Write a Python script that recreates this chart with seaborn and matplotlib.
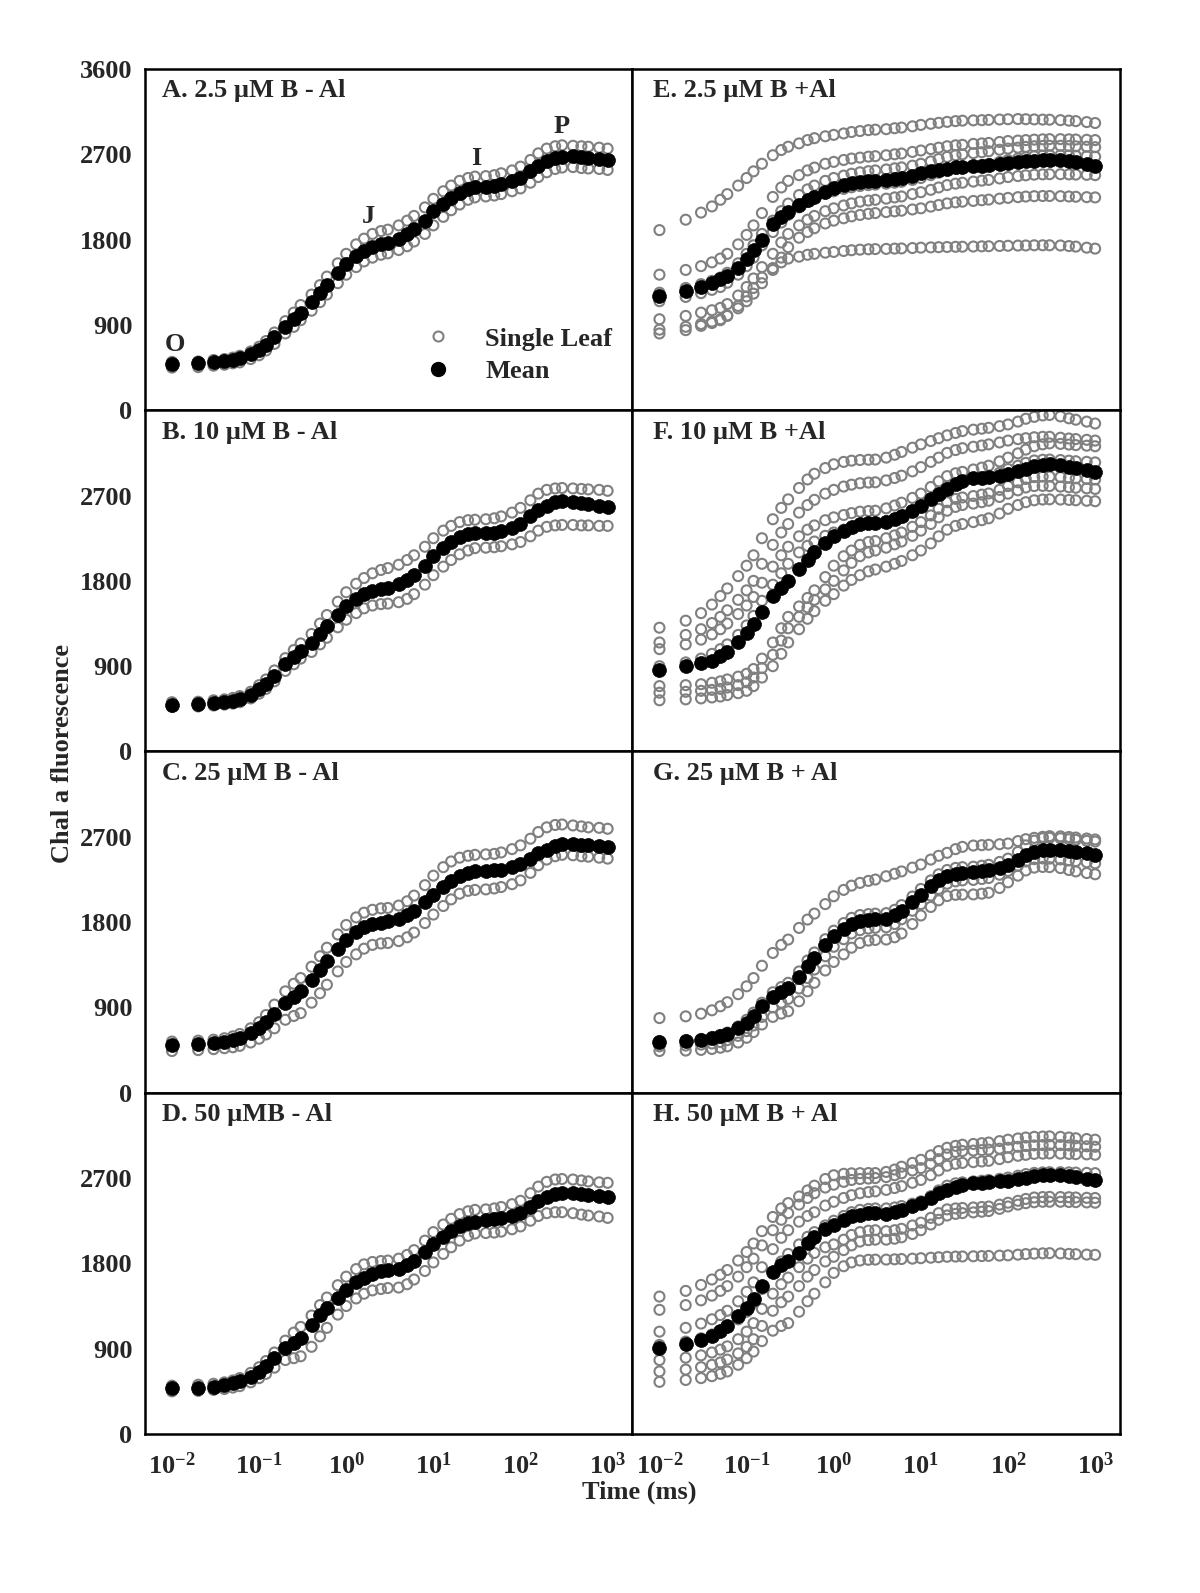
import numpy as np
import pandas as pd
import matplotlib
matplotlib.use('Agg')
import matplotlib.pyplot as plt
from matplotlib.lines import Line2D
from matplotlib.ticker import NullLocator
import seaborn as sns

# OJIP transients, Chl a fluorescence vs time (ms)

T = [0.01, 0.02, 0.03, 0.04, 0.05, 0.06, 0.08, 0.1, 0.12, 0.15, 0.2, 0.25, 0.3,
     0.4, 0.5, 0.6, 0.8, 1.0, 1.3, 1.6, 2.0, 2.5, 3.0,
     4, 5, 6, 8, 10, 13, 16, 20, 25, 30,
     40, 50, 60, 80, 100, 130, 160, 200, 250, 300,
     400, 500, 600, 800, 1000]

# --- A. 2.5 uM B - Al ---
A_mean = [490, 495, 510, 520, 535, 550, 590, 635, 690, 770, 880, 960, 1030,
          1140, 1240, 1320, 1450, 1545, 1630, 1685, 1725, 1750, 1765,
          1810, 1860, 1910, 2000, 2100, 2180, 2240, 2290, 2330, 2355,
          2360, 2370, 2385, 2415, 2450, 2520, 2580, 2625, 2660, 2675,
          2680, 2670, 2665, 2655, 2640]
A_hi = [510, 515, 530, 540, 555, 575, 620, 670, 730, 820, 940, 1030, 1110,
        1220, 1320, 1410, 1550, 1650, 1750, 1810, 1860, 1890, 1905,
        1950, 2000, 2050, 2140, 2230, 2310, 2370, 2420, 2450, 2465,
        2470, 2480, 2500, 2530, 2570, 2640, 2710, 2760, 2785, 2795,
        2790, 2785, 2780, 2770, 2760]
A_lo = [450, 455, 470, 480, 495, 505, 540, 580, 630, 700, 810, 880, 950,
        1050, 1140, 1220, 1340, 1430, 1510, 1570, 1610, 1640, 1655,
        1690, 1730, 1780, 1860, 1950, 2040, 2110, 2170, 2220, 2245,
        2255, 2265, 2280, 2310, 2340, 2400, 2460, 2510, 2545, 2560,
        2565, 2555, 2550, 2545, 2535]

# --- B. 10 uM B - Al ---
B_mean = [495, 500, 510, 520, 535, 550, 595, 660, 715, 800, 920, 995, 1060,
          1140, 1240, 1320, 1440, 1530, 1610, 1660, 1695, 1715, 1730,
          1765, 1810, 1860, 1960, 2060, 2150, 2210, 2260, 2295, 2310,
          2300, 2310, 2325, 2360, 2400, 2480, 2550, 2595, 2630, 2640,
          2635, 2620, 2610, 2595, 2580]
B_hi = [520, 525, 540, 550, 565, 585, 630, 700, 760, 855, 985, 1070, 1140,
        1240, 1350, 1440, 1580, 1680, 1770, 1830, 1880, 1915, 1935,
        1970, 2020, 2070, 2160, 2250, 2330, 2380, 2420, 2440, 2445,
        2450, 2460, 2480, 2520, 2570, 2650, 2720, 2760, 2775, 2780,
        2775, 2770, 2765, 2760, 2750]
B_lo = [470, 475, 485, 495, 505, 520, 560, 610, 660, 740, 850, 920, 980,
        1050, 1130, 1200, 1310, 1390, 1460, 1510, 1540, 1555, 1560,
        1575, 1610, 1660, 1760, 1860, 1950, 2020, 2080, 2120, 2145,
        2150, 2155, 2165, 2185, 2210, 2270, 2330, 2370, 2385, 2390,
        2390, 2385, 2385, 2380, 2380]

# --- C. 25 uM B - Al ---
C_mean = [505, 515, 525, 540, 560, 580, 630, 685, 745, 835, 945, 1015, 1070,
          1190, 1300, 1390, 1520, 1615, 1695, 1745, 1775, 1795, 1810,
          1830, 1870, 1920, 2010, 2090, 2170, 2230, 2285, 2320, 2335,
          2340, 2345, 2355, 2385, 2410, 2470, 2525, 2565, 2600, 2620,
          2620, 2615, 2610, 2600, 2595]
C_hi = [540, 550, 560, 575, 595, 620, 680, 745, 820, 930, 1070, 1150, 1210,
        1330, 1440, 1530, 1670, 1770, 1850, 1900, 1930, 1945, 1950,
        1975, 2020, 2080, 2190, 2290, 2380, 2440, 2480, 2500, 2510,
        2515, 2520, 2535, 2570, 2610, 2680, 2750, 2800, 2825, 2830,
        2820, 2810, 2800, 2795, 2785]
C_lo = [440, 450, 460, 470, 480, 495, 530, 570, 615, 680, 770, 810, 840,
        950, 1050, 1140, 1280, 1380, 1460, 1520, 1560, 1575, 1580,
        1600, 1640, 1690, 1790, 1880, 1970, 2040, 2100, 2130, 2140,
        2145, 2155, 2170, 2200, 2240, 2320, 2400, 2460, 2495, 2510,
        2505, 2495, 2490, 2480, 2470]

# --- D. 50 uM B - Al ---
D_mean = [482, 490, 500, 515, 535, 555, 605, 658, 715, 800, 905, 965, 1010,
          1150, 1255, 1330, 1440, 1520, 1600, 1650, 1685, 1715, 1730,
          1745, 1780, 1830, 1920, 2000, 2080, 2140, 2190, 2225, 2240,
          2260, 2270, 2280, 2305, 2330, 2400, 2460, 2505, 2530, 2540,
          2540, 2535, 2525, 2515, 2505]
D_hi = [510, 520, 530, 545, 565, 590, 645, 705, 770, 860, 985, 1070, 1130,
        1250, 1360, 1440, 1570, 1660, 1740, 1790, 1815, 1825, 1830,
        1850, 1890, 1940, 2040, 2130, 2210, 2270, 2320, 2350, 2365,
        2370, 2380, 2395, 2425, 2460, 2540, 2610, 2660, 2685, 2690,
        2685, 2675, 2665, 2655, 2650]
D_lo = [450, 455, 465, 475, 490, 505, 545, 590, 635, 700, 780, 800, 820,
        920, 1030, 1120, 1260, 1350, 1430, 1480, 1515, 1530, 1540,
        1545, 1580, 1630, 1720, 1810, 1900, 1970, 2040, 2090, 2115,
        2120, 2125, 2135, 2160, 2190, 2250, 2300, 2330, 2340, 2340,
        2330, 2315, 2305, 2295, 2280]

# --- E. 2.5 uM B + Al ---
E_mean = [1205, 1260, 1300, 1340, 1385, 1420, 1500, 1600, 1690, 1800, 1960, 2040, 2095,
          2165, 2215, 2250, 2300, 2340, 2375, 2395, 2410, 2418, 2422,
          2430, 2440, 2450, 2475, 2500, 2520, 2535, 2550, 2562, 2570,
          2575, 2580, 2585, 2595, 2605, 2615, 2625, 2632, 2638, 2640,
          2635, 2625, 2615, 2598, 2580]
E_1 = [1900, 2010, 2085, 2150, 2220, 2280, 2370, 2450, 2520, 2600, 2690, 2745, 2780,
       2815, 2850, 2870, 2890, 2905, 2920, 2935, 2945, 2955, 2960,
       2965, 2975, 2982, 2995, 3010, 3022, 3032, 3042, 3050, 3055,
       3058, 3060, 3063, 3067, 3070, 3072, 3070, 3068, 3066, 3065,
       3060, 3055, 3050, 3040, 3030]
E_2 = [1430, 1480, 1520, 1560, 1600, 1650, 1750, 1850, 1950, 2080, 2250, 2350, 2420,
       2480, 2530, 2560, 2600, 2620, 2640, 2655, 2665, 2675, 2680,
       2690, 2700, 2708, 2725, 2740, 2755, 2770, 2785, 2795, 2800,
       2810, 2815, 2820, 2830, 2840, 2845, 2850, 2855, 2858, 2860,
       2860, 2858, 2856, 2853, 2850]
E_3 = [1240, 1290, 1330, 1365, 1400, 1450, 1550, 1650, 1740, 1860, 2000, 2100, 2180,
       2270, 2330, 2370, 2420, 2450, 2475, 2495, 2510, 2522, 2530,
       2540, 2552, 2562, 2580, 2600, 2625, 2650, 2672, 2690, 2700,
       2712, 2722, 2732, 2748, 2760, 2770, 2778, 2785, 2788, 2790,
       2790, 2787, 2784, 2780, 2775]
E_4 = [1150, 1195, 1235, 1270, 1300, 1345, 1430, 1520, 1610, 1740, 1880, 1980, 2060,
       2140, 2200, 2240, 2285, 2310, 2335, 2352, 2365, 2375, 2380,
       2390, 2400, 2410, 2430, 2450, 2480, 2505, 2530, 2548, 2560,
       2575, 2588, 2598, 2620, 2640, 2655, 2668, 2680, 2686, 2690,
       2690, 2688, 2685, 2680, 2675]
E_5 = [960, 995, 1030, 1055, 1080, 1120, 1210, 1300, 1390, 1510, 1650, 1770, 1860,
       1950, 2010, 2050, 2100, 2130, 2160, 2182, 2200, 2212, 2220,
       2232, 2245, 2255, 2280, 2300, 2325, 2350, 2375, 2390, 2400,
       2412, 2422, 2430, 2445, 2460, 2470, 2478, 2485, 2488, 2490,
       2490, 2488, 2486, 2483, 2480]
E_6 = [850, 880, 910, 935, 960, 1000, 1075, 1150, 1230, 1340, 1480, 1610, 1720,
       1820, 1880, 1920, 1970, 2000, 2025, 2045, 2060, 2072, 2080,
       2090, 2098, 2105, 2118, 2130, 2148, 2165, 2182, 2193, 2200,
       2208, 2215, 2222, 2232, 2240, 2248, 2254, 2258, 2260, 2260,
       2258, 2255, 2252, 2248, 2245]
E_7 = [810, 845, 890, 920, 950, 995, 1100, 1200, 1290, 1400, 1500, 1560, 1600,
       1620, 1640, 1650, 1662, 1670, 1680, 1688, 1694, 1698, 1700,
       1702, 1705, 1707, 1711, 1715, 1718, 1720, 1722, 1724, 1725,
       1727, 1729, 1730, 1733, 1735, 1737, 1738, 1740, 1740, 1740,
       1738, 1732, 1726, 1715, 1705]

# --- F. 10 uM B + Al ---
F_mean = [860, 900, 930, 955, 1005, 1050, 1150, 1250, 1340, 1470, 1640, 1730, 1800,
          1920, 2025, 2100, 2200, 2270, 2330, 2370, 2395, 2408, 2415,
          2425, 2450, 2480, 2540, 2590, 2660, 2715, 2765, 2820, 2855,
          2880, 2890, 2898, 2910, 2925, 2955, 2985, 3010, 3025, 3030,
          3020, 3005, 2990, 2970, 2950]
F_1 = [1306, 1380, 1460, 1550, 1640, 1720, 1850, 1960, 2070, 2250, 2450, 2570, 2660,
       2780, 2870, 2930, 2990, 3030, 3055, 3068, 3075, 3078, 3080,
       3100, 3130, 3160, 3205, 3240, 3275, 3305, 3335, 3360, 3380,
       3395, 3405, 3415, 3432, 3450, 3480, 3510, 3530, 3545, 3550,
       3535, 3515, 3500, 3480, 3460]
F_2 = [1150, 1230, 1290, 1355, 1420, 1490, 1600, 1700, 1800, 1980, 2180, 2310, 2400,
       2520, 2600, 2655, 2720, 2760, 2795, 2815, 2830, 2837, 2840,
       2860, 2885, 2910, 2955, 3000, 3055, 3100, 3150, 3180, 3200,
       3215, 3228, 3240, 3260, 3280, 3295, 3305, 3315, 3320, 3320,
       3310, 3302, 3296, 3288, 3280]
F_3 = [1080, 1130, 1180, 1235, 1290, 1350, 1450, 1540, 1630, 1780, 1950, 2070, 2160,
       2270, 2340, 2385, 2440, 2470, 2495, 2515, 2530, 2537, 2540,
       2565, 2595, 2625, 2675, 2720, 2790, 2850, 2905, 2935, 2950,
       2975, 2995, 3015, 3060, 3100, 3145, 3185, 3220, 3240, 3250,
       3245, 3238, 3232, 3226, 3220]
F_4 = [900, 940, 980, 1030, 1080, 1130, 1230, 1330, 1430, 1590, 1760, 1880, 1980,
       2100, 2170, 2215, 2275, 2310, 2340, 2365, 2385, 2395, 2400,
       2430, 2460, 2490, 2545, 2600, 2670, 2730, 2790, 2830, 2850,
       2870, 2885, 2900, 2940, 2980, 3015, 3045, 3070, 3078, 3080,
       3075, 3068, 3062, 3056, 3050]
F_5 = [690, 700, 710, 725, 740, 760, 790, 820, 870, 980, 1150, 1300, 1420,
       1530, 1620, 1700, 1840, 1960, 2060, 2120, 2180, 2210, 2220,
       2250, 2280, 2310, 2370, 2420, 2490, 2560, 2630, 2665, 2680,
       2695, 2710, 2722, 2760, 2800, 2840, 2875, 2895, 2900, 2900,
       2895, 2888, 2882, 2876, 2870]
F_6 = [620, 630, 640, 650, 660, 675, 700, 730, 780, 880, 1020, 1170, 1300,
       1420, 1520, 1600, 1710, 1800, 1910, 1990, 2060, 2100, 2120,
       2150, 2185, 2215, 2275, 2330, 2400, 2470, 2540, 2580, 2600,
       2615, 2630, 2645, 2685, 2720, 2755, 2785, 2800, 2802, 2800,
       2795, 2788, 2782, 2776, 2770]
F_7 = [540, 550, 560, 570, 580, 595, 615, 640, 690, 780, 900, 1030, 1150,
       1290, 1400, 1480, 1590, 1660, 1750, 1810, 1860, 1900, 1920,
       1950, 1980, 2010, 2070, 2120, 2195, 2270, 2340, 2380, 2400,
       2420, 2440, 2460, 2510, 2560, 2600, 2630, 2650, 2658, 2660,
       2658, 2654, 2650, 2645, 2640]

# --- G. 25 uM B + Al ---
G_mean = [532, 542, 555, 575, 595, 620, 680, 740, 810, 910, 1015, 1065, 1105,
          1220, 1335, 1420, 1560, 1650, 1730, 1780, 1810, 1822, 1828,
          1835, 1870, 1920, 2010, 2090, 2180, 2240, 2285, 2310, 2320,
          2325, 2335, 2345, 2375, 2405, 2460, 2505, 2538, 2560, 2566,
          2560, 2550, 2540, 2525, 2513]
G_1 = [788, 806, 834, 870, 912, 955, 1040, 1123, 1210, 1340, 1475, 1560, 1616,
       1739, 1827, 1890, 1990, 2073, 2140, 2185, 2214, 2235, 2249,
       2284, 2310, 2335, 2375, 2408, 2460, 2500, 2531, 2570, 2594,
       2608, 2612, 2616, 2622, 2629, 2655, 2675, 2689, 2700, 2707,
       2705, 2698, 2692, 2682, 2672]
G_2 = [545, 555, 568, 588, 610, 635, 700, 770, 845, 950, 1060, 1115, 1160,
       1280, 1395, 1480, 1620, 1710, 1790, 1845, 1875, 1885, 1890,
       1895, 1930, 1980, 2070, 2150, 2240, 2305, 2350, 2372, 2380,
       2385, 2395, 2405, 2435, 2470, 2540, 2610, 2660, 2685, 2690,
       2685, 2675, 2668, 2658, 2650]
G_3 = [490, 498, 508, 520, 535, 555, 600, 650, 710, 800, 900, 950, 990,
       1100, 1210, 1300, 1440, 1540, 1620, 1680, 1715, 1732, 1740,
       1745, 1780, 1830, 1920, 1990, 2080, 2150, 2205, 2230, 2240,
       2245, 2255, 2265, 2300, 2340, 2395, 2440, 2465, 2472, 2470,
       2462, 2452, 2444, 2432, 2420]
G_4 = [440, 445, 452, 462, 475, 490, 530, 580, 640, 720, 800, 835, 860,
       965, 1070, 1160, 1290, 1380, 1460, 1530, 1580, 1605, 1612,
       1616, 1640, 1680, 1780, 1870, 1960, 2030, 2075, 2088, 2090,
       2092, 2100, 2110, 2160, 2220, 2290, 2345, 2375, 2382, 2380,
       2370, 2350, 2335, 2318, 2305]

# --- H. 50 uM B + Al ---
H_mean = [912, 947, 993, 1035, 1088, 1140, 1240, 1327, 1420, 1560, 1714, 1780, 1820,
          1908, 2010, 2075, 2160, 2205, 2260, 2295, 2315, 2327, 2330,
          2325, 2340, 2365, 2405, 2436, 2490, 2540, 2577, 2610, 2629,
          2647, 2653, 2658, 2665, 2672, 2690, 2705, 2717, 2728, 2735,
          2730, 2720, 2710, 2695, 2682]
H_1 = [1450, 1510, 1573, 1630, 1680, 1730, 1830, 1920, 2010, 2140, 2290, 2380, 2436,
       2506, 2570, 2620, 2690, 2730, 2745, 2750, 2752, 2753, 2753,
       2765, 2790, 2820, 2860, 2893, 2940, 2985, 3020, 3040, 3052,
       3060, 3068, 3075, 3090, 3105, 3118, 3128, 3135, 3138, 3140,
       3135, 3128, 3120, 3112, 3105]
H_2 = [1310, 1360, 1410, 1460, 1510, 1560, 1660, 1760, 1850, 1990, 2150, 2260, 2330,
       2420, 2490, 2540, 2600, 2630, 2660, 2680, 2690, 2695, 2700,
       2710, 2730, 2750, 2780, 2805, 2850, 2900, 2950, 2975, 2985,
       2990, 2995, 3000, 3010, 3020, 3030, 3038, 3045, 3048, 3050,
       3048, 3044, 3040, 3035, 3030]
H_3 = [1080, 1120, 1165, 1210, 1255, 1300, 1400, 1500, 1600, 1760, 1950, 2070, 2150,
       2240, 2300, 2340, 2410, 2450, 2490, 2520, 2540, 2552, 2560,
       2575, 2595, 2615, 2650, 2680, 2730, 2780, 2830, 2850, 2860,
       2868, 2875, 2882, 2900, 2920, 2935, 2945, 2955, 2958, 2960,
       2958, 2955, 2952, 2950, 2946]
H_4 = [940, 975, 1010, 1050, 1090, 1130, 1210, 1290, 1380, 1530, 1700, 1820, 1900,
       2000, 2080, 2130, 2200, 2250, 2300, 2340, 2365, 2375, 2380,
       2380, 2390, 2405, 2430, 2455, 2510, 2570, 2620, 2645, 2655,
       2665, 2672, 2680, 2692, 2705, 2725, 2742, 2755, 2760, 2762,
       2762, 2760, 2758, 2755, 2752]
H_5 = [780, 805, 830, 860, 890, 925, 1000, 1080, 1170, 1320, 1480, 1580, 1650,
       1760, 1850, 1910, 1970, 2000, 2050, 2100, 2130, 2145, 2150,
       2140, 2150, 2165, 2200, 2230, 2280, 2330, 2370, 2380, 2385,
       2390, 2395, 2400, 2420, 2440, 2460, 2480, 2495, 2500, 2502,
       2500, 2498, 2495, 2492, 2490]
H_6 = [660, 680, 705, 730, 755, 785, 850, 920, 1000, 1140, 1300, 1390, 1450,
       1560, 1660, 1730, 1820, 1870, 1940, 1990, 2030, 2045, 2050,
       2050, 2060, 2075, 2110, 2150, 2210, 2260, 2305, 2322, 2330,
       2338, 2345, 2352, 2375, 2400, 2420, 2435, 2445, 2450, 2450,
       2450, 2448, 2446, 2443, 2440]
H_7 = [550, 570, 590, 610, 635, 660, 730, 800, 870, 980, 1090, 1140, 1170,
       1290, 1400, 1480, 1600, 1700, 1770, 1810, 1830, 1838, 1840,
       1840, 1843, 1846, 1850, 1855, 1860, 1865, 1870, 1872, 1873,
       1875, 1877, 1879, 1882, 1885, 1892, 1898, 1903, 1906, 1908,
       1905, 1900, 1897, 1893, 1890]

TITLES = ['A. 2.5 µM B - Al', 'B. 10 µM B - Al', 'C. 25 µM B - Al', 'D. 50 µMB - Al',
          'E. 2.5 µM B +Al', 'F. 10 µM B +Al', 'G. 25 µM B + Al', 'H. 50 µM B + Al']
Y_TICKS = [0, 900, 1800, 2700, 3600]
X_TICKS = [1e-2, 1e-1, 1e0, 1e1, 1e2, 1e3]
X_TICKLABELS = [r'$\mathbf{10^{-2}}$', r'$\mathbf{10^{-1}}$', r'$\mathbf{10^{0}}$',
                r'$\mathbf{10^{1}}$', r'$\mathbf{10^{2}}$', r'$\mathbf{10^{3}}$']
# OJIP step labels in panel A: (text, time, value)
STEPS = [('O', 0.0107, 690), ('J', 1.79, 2040), ('I', 31, 2660), ('P', 300, 2990)]

GRAY = '#808080'

sns.set_style('white')
plt.rcParams['font.family'] = ['Liberation Serif', 'DejaVu Serif']
plt.rcParams['font.weight'] = 'bold'
plt.rcParams['axes.labelweight'] = 'bold'
plt.rcParams['mathtext.fontset'] = 'custom'
plt.rcParams['mathtext.rm'] = 'Liberation Serif:bold'
plt.rcParams['mathtext.bf'] = 'Liberation Serif:bold'
plt.rcParams['mathtext.it'] = 'Liberation Serif:bold:italic'

panels = [
    (0, 0, A_mean, [A_hi, A_lo]),
    (1, 0, B_mean, [B_hi, B_lo]),
    (2, 0, C_mean, [C_hi, C_lo]),
    (3, 0, D_mean, [D_hi, D_lo]),
    (0, 1, E_mean, [E_1, E_2, E_3, E_4, E_5, E_6, E_7]),
    (1, 1, F_mean, [F_1, F_2, F_3, F_4, F_5, F_6, F_7]),
    (2, 1, G_mean, [G_1, G_2, G_3, G_4]),
    (3, 1, H_mean, [H_1, H_2, H_3, H_4, H_5, H_6, H_7]),
]

fig, axes = plt.subplots(4, 2, figsize=(12, 15.93), dpi=100)
fig.subplots_adjust(left=0.1208, right=0.9333, top=0.9567, bottom=0.0998,
                    wspace=0, hspace=0)

for i, (r, c, mean, leaves) in enumerate(panels):
    ax = axes[r, c]
    single = pd.DataFrame({'time': T * len(leaves),
                           'value': sum(leaves, [])})
    sns.scatterplot(data=single, x='time', y='value', ax=ax, s=52,
                    color=GRAY, facecolors='none', edgecolor=GRAY,
                    linewidth=1.5, legend=False, zorder=2)
    sns.scatterplot(x=T, y=mean, ax=ax, s=100, color='black',
                    edgecolor='black', linewidth=0.5, legend=False, zorder=3)

    ax.set_xscale('log')
    ax.set_xlim(10 ** -2.31, 10 ** 3.285)
    ax.set_ylim(0, 3600)
    ax.set_xticks(X_TICKS)
    ax.xaxis.set_minor_locator(NullLocator())
    ax.set_yticks(Y_TICKS)
    ax.set_xticklabels(X_TICKLABELS)
    ylabels = [str(v) for v in Y_TICKS]
    if r > 0:
        ylabels[-1] = ''
    ax.set_yticklabels(ylabels)
    ax.set_xlabel('')
    ax.set_ylabel('')
    ax.tick_params(direction='in', length=9.5, width=1.6, labelsize=19,
                   top=False, right=False,
                   labelleft=(c == 0), labelbottom=(r == 3))
    ax.tick_params(axis='y', pad=9)
    ax.tick_params(axis='x', pad=13)
    for lab in ax.get_yticklabels():
        lab.set_fontweight('bold')
    for sp in ax.spines.values():
        sp.set_linewidth(1.8)
        sp.set_color('black')

    ax.text(0.035 if c == 0 else 0.043, 0.917, TITLES[c * 4 + r],
            transform=ax.transAxes, fontsize=19, fontweight='bold',
            ha='left', va='baseline')

# OJIP labels and legend in panel A
axA = axes[0, 0]
for lab, tx, vy in STEPS:
    axA.text(tx, vy, lab, ha='center', va='center', fontsize=19, fontweight='bold')

handles = [Line2D([], [], marker='o', ls='none', mfc='none', mec=GRAY, mew=1.5, ms=7.2),
           Line2D([], [], marker='o', ls='none', mfc='black', mec='black', ms=10)]
axA.legend(handles, ['Single Leaf', 'Mean'], loc='center left',
           bbox_to_anchor=(0.546, 0.161), frameon=False, fontsize=19,
           borderpad=0, borderaxespad=0, handletextpad=0.8,
           labelspacing=0.35, handlelength=2)

fig.text(0.052, 0.527, 'Chal a fluorescence', rotation=90, ha='center',
         va='center', fontsize=19, fontweight='bold')
fig.text(0.533, 0.0634, 'Time (ms)', ha='center', va='center',
         fontsize=19, fontweight='bold')

fig.savefig('out.png', dpi=100)
